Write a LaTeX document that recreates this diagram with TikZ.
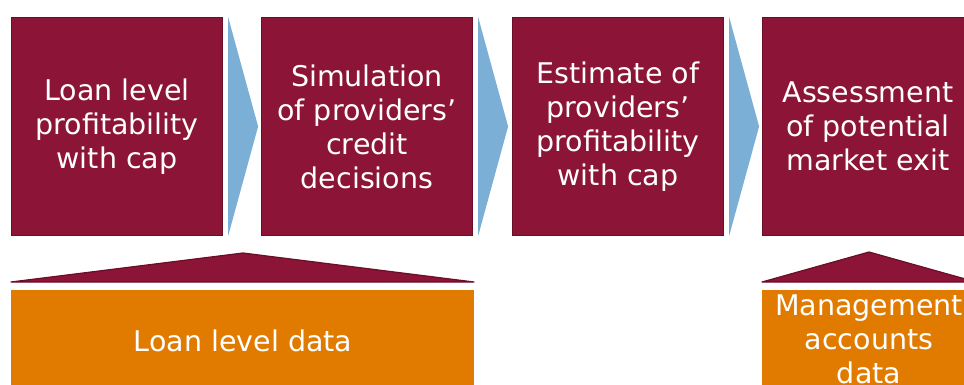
\documentclass[tikz,border=0pt]{standalone}
\usepackage{fontspec}
\setmainfont{DejaVu Sans}
\usetikzlibrary{calc}
\definecolor{maroon}{HTML}{8C1436}
\definecolor{maroonedge}{HTML}{6A0E28}
\definecolor{chevron}{HTML}{7BAFD6}
\definecolor{amber}{HTML}{E07B00}
\begin{document}
\begin{tikzpicture}[x=1pt,y=-1pt,
  stage/.style={fill=maroon,draw=maroonedge,line width=1.2pt,
    minimum width=211pt,minimum height=218pt,inner sep=0pt,
    text=white,align=center,font=\fontsize{28.5}{34}\selectfont},
  source/.style={fill=amber,inner sep=0pt,text=white,align=center,
    font=\fontsize{28.5}{34}\selectfont},
  roof/.style={fill=maroon,draw=maroonedge,line width=1.2pt,line join=round},
  arrowhead/.style={fill=chevron}]
\useasboundingbox (0,0) rectangle (964,385);
\clip (0,0) rectangle (964,385);

% process stages
\node[stage] (s1) at (117,126.5) {Loan level\\profitability\\with cap};
\node[stage] (s2) at (367,126.5) {Simulation\\of providers’\\credit\\decisions};
\node[stage] (s3) at (618,126.5) {Estimate of\\providers’\\profitability\\with cap};
\node[stage] (s4) at (868,126.5) {Assessment\\of potential\\market exit};

% chevrons between the stages
\foreach \a in {s1,s2,s3}{
  \fill[arrowhead] ($(\a.north east)+(5,0)$) -- ($(\a.east)+(35,0)$)
    -- ($(\a.south east)+(5,0)$) -- cycle;
}

% data sources
\draw[roof] (11,282) -- (243,253) -- (474,282) -- cycle;
\node[source,minimum width=463pt,minimum height=110pt] (d1) at (242.5,345) {};
\node[text=white,font=\fontsize{28.5}{34}\selectfont] (t1) at (243,341) {Loan level data};

\draw[roof] (762,282) -- (869,252) -- (976,282) -- cycle;
\node[source,minimum width=214pt,minimum height=130pt] (d2) at (869,355) {};
\node[text=white,align=center,font=\fontsize{28.5}{34}\selectfont] (t2) at (869,339)
  {Management\\accounts\\data};
\end{tikzpicture}
\end{document}
